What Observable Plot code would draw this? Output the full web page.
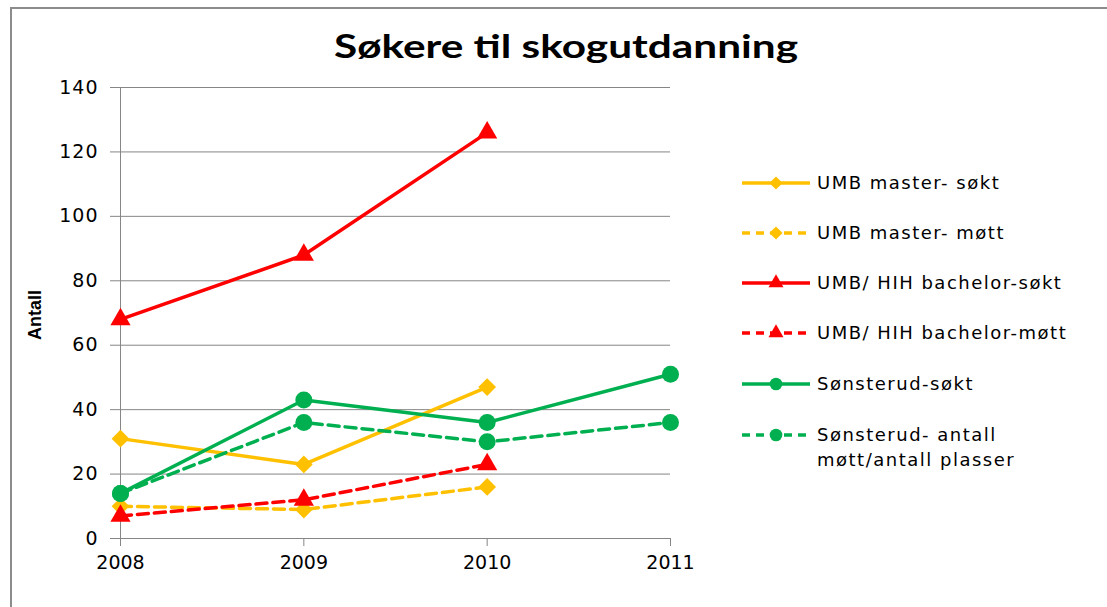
<!DOCTYPE html>
<html>
<head>
<meta charset="utf-8">
<script src="https://cdn.jsdelivr.net/npm/d3@7"></script>
<script src="https://cdn.jsdelivr.net/npm/@observablehq/plot@0.6"></script>
<style>
  html, body { margin: 0; padding: 0; background: #fff; }
  #wrap { position: relative; width: 1107px; height: 607px; overflow: hidden; background: #fff; }
  #frame { position: absolute; left: 10px; top: 7px; width: 1200px; height: 700px; border-left: 2px solid #8c8c8c; border-top: 2px solid #8c8c8c; box-sizing: border-box; }
  #chart { position: absolute; left: 0; top: 0; }
  #chart svg text { font-family: "DejaVu Sans", sans-serif !important; font-size: 19px !important; fill: #000 !important; }
  #chart svg g[aria-label="y-axis tick label"] text { letter-spacing: 1px; }
  #title { position: absolute; left: 0; top: 0; }
  #ylabel { position: absolute; left: 35px; top: 315px; transform: translate(-50%, -50%) rotate(-90deg); font-family: "Liberation Sans", Arial, sans-serif; font-weight: bold; font-size: 18px; color: #000; white-space: nowrap; }
  #legend { position: absolute; left: 0; top: 0; }
</style>
</head>
<body>
<div id="wrap">
  <div id="frame"></div>
  <div id="chart"></div>
  <svg id="title" width="1107" height="80"></svg>
  <div id="ylabel">Antall</div>
  <svg id="legend" width="1107" height="607"></svg>
</div>
<script>
const years = [2008, 2009, 2010, 2011];
const seriesNames = [
  "UMB master- søkt",
  "UMB master- møtt",
  "UMB/ HIH bachelor-søkt",
  "UMB/ HIH bachelor-møtt",
  "Sønsterud-søkt",
  "Sønsterud- antall møtt/antall plasser"
];
const umbMasterSokt = [31, 23, 47, null];
const umbMasterMott = [10, 9, 16, null];
const bachelorSokt = [68, 88, 126, null];
const bachelorMott = [7, 12, 23, null];
const sonsterudSokt = [14, 43, 36, 51];
const sonsterudMott = [14, 36, 30, 36];
const yTicks = [0, 20, 40, 60, 80, 100, 120, 140];

const seriesValues = [umbMasterSokt, umbMasterMott, bachelorSokt, bachelorMott, sonsterudSokt, sonsterudMott];
const seriesColors = ["#FFC000", "#FFC000", "#FF0000", "#FF0000", "#00B050", "#00B050"];
const seriesDashed = [false, true, false, true, false, true];
const seriesSymbols = ["diamond2", "diamond2", "triangle", "triangle", "circle", "circle"];
const seriesR = [8, 8, 7.5, 7.5, 8.5, 8.5];

const seriesData = seriesValues.map((vals, i) =>
  years.map((y, j) => ({year: y, value: vals[j], series: seriesNames[i]})).filter(d => d.value != null)
);

const marks = [
  Plot.ruleY(yTicks, {x1: 2008, x2: 2011, stroke: "#868686", strokeWidth: 1, strokeOpacity: 1}),
  Plot.ruleX([2008], {y1: 0, y2: 140, stroke: "#868686", strokeOpacity: 1}),
  Plot.axisY(yTicks, {tickSize: 10, tickPadding: 12, stroke: "#868686", strokeOpacity: 1, fill: "#000", label: null}),
  Plot.axisX(years, {tickSize: 8, stroke: "#868686", strokeOpacity: 1, tickPadding: 9, fill: "#000", tickFormat: "d", label: null})
];
seriesData.forEach((data, i) => {
  marks.push(Plot.line(data, {x: "year", y: "value", stroke: seriesColors[i], strokeWidth: 3.5,
    strokeDasharray: seriesDashed[i] ? "11,6" : null, curve: "linear"}));
});
seriesData.forEach((data, i) => {
  marks.push(Plot.dot(data, {x: "year", y: "value", symbol: () => seriesSymbols[i], fill: seriesColors[i], stroke: "none", r: seriesR[i]}));
});

const chart = Plot.plot({
  width: 1107,
  height: 607,
  marginLeft: 120,
  marginRight: 437,
  marginTop: 87,
  marginBottom: 69,
  x: {type: "linear", domain: [2008, 2011]},
  y: {type: "linear", domain: [0, 140]},
  symbol: {type: "identity"},
  style: {fontFamily: "DejaVu Sans", fontSize: "18px", background: "transparent", color: "#000"},
  marks
});
document.getElementById("chart").appendChild(chart);

// title
const tsvg = d3.select("#title");
tsvg.append("text")
  .attr("x", 334).attr("y", 58)
  .attr("textLength", 464).attr("lengthAdjust", "spacingAndGlyphs")
  .attr("font-family", "Lato, 'Open Sans', sans-serif").attr("font-weight", "bold").attr("font-size", 33)
  .attr("fill", "#000")
  .text("Søkere til skogutdanning");

// legend
const lsvg = d3.select("#legend");
const rowY = [183, 233, 283, 333, 384, 435];
seriesNames.forEach((name, i) => {
  const g = lsvg.append("g").attr("transform", `translate(0,${rowY[i]})`);
  g.append("line").attr("x1", 742).attr("x2", 810).attr("y1", 0).attr("y2", 0)
    .attr("stroke", seriesColors[i]).attr("stroke-width", 3.5)
    .attr("stroke-dasharray", seriesDashed[i] ? "8,6" : null);
  const sym = {diamond2: d3.symbolDiamond2, triangle: d3.symbolTriangle, circle: d3.symbolCircle}[seriesSymbols[i]];
  g.append("path").attr("transform", "translate(776,0)")
    .attr("d", d3.symbol(sym, Math.PI * seriesR[i] * seriesR[i] * 0.55)())
    .attr("fill", seriesColors[i]);
  const t = g.append("text").attr("x", 817).attr("y", 0).attr("dy", "0.35em")
    .attr("font-family", "DejaVu Sans").attr("font-size", 18).attr("letter-spacing", "1.5px").attr("fill", "#000");
  if (i === 5) {
    t.append("tspan").attr("x", 817).text("Sønsterud- antall");
    t.append("tspan").attr("x", 817).attr("dy", "1.4em").text("møtt/antall plasser");
  } else {
    t.text(name);
  }
});
</script>
</body>
</html>
